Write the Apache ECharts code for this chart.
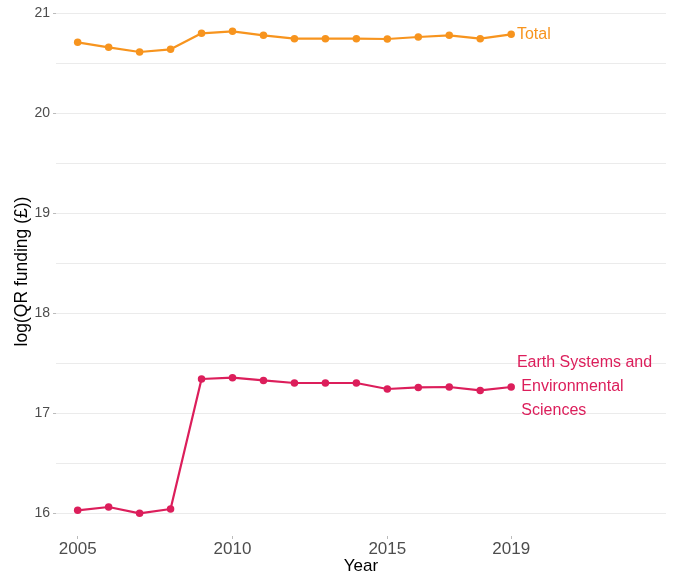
<!DOCTYPE html>
<html>
<head>
<meta charset="utf-8">
<script src="https://cdn.jsdelivr.net/npm/echarts@6/dist/echarts.min.js"></script>
<style>
  html, body { margin: 0; padding: 0; background: #ffffff; }
  #chart { width: 676px; height: 573px; }
</style>
</head>
<body>
<div id="chart"></div>
<script>
const years = [2005, 2006, 2007, 2008, 2009, 2010, 2011, 2012, 2013, 2014, 2015, 2016, 2017, 2018, 2019];
const totalValues = [20.707, 20.657, 20.61, 20.637, 20.797, 20.817, 20.777, 20.743, 20.743, 20.743, 20.74, 20.76, 20.777, 20.743, 20.787];
const earthValues = [16.027, 16.06, 15.997, 16.04, 17.34, 17.353, 17.326, 17.30, 17.30, 17.30, 17.24, 17.256, 17.26, 17.226, 17.26];
const xTickLabels = [2005, 2010, 2015, 2019];
const yTickLabels = [16, 17, 18, 19, 20, 21];
const yGridValues = [16, 16.5, 17, 17.5, 18, 18.5, 19, 19.5, 20, 20.5, 21];
const totalName = 'Total';
const earthName = 'Earth Systems and\n Environmental\n Sciences';

const ORANGE = '#F7941E';
const PINK = '#DC1E5B';
const FONT = 'Liberation Sans, Arial, sans-serif';

function makeData(vals, name, color) {
  return years.map((y, i) => {
    const item = { value: [y, vals[i]] };
    if (i === years.length - 1) {
      item.label = {
        show: true,
        formatter: name,
        position: 'right',
        distance: 2,
        color: color,
        fontSize: 16,
        fontFamily: FONT,
        lineHeight: 24,
        align: 'left',
        verticalAlign: 'middle'
      };
    }
    return item;
  });
}

const chart = echarts.init(document.getElementById('chart'), null, { renderer: 'canvas' });
chart.setOption({
  animation: false,
  backgroundColor: '#ffffff',
  grid: { left: 56, right: 10, top: 7, bottom: 37, containLabel: false, outerBoundsMode: 'none' },
  xAxis: {
    type: 'value',
    min: 2004.3,
    max: 2024,
    name: 'Year',
    nameLocation: 'middle',
    nameGap: 22,
    nameMoveOverlap: false,
    nameTextStyle: { color: '#000000', fontSize: 17, fontFamily: FONT, verticalAlign: 'top' },
    axisLine: { show: false },
    axisTick: { show: true, customValues: xTickLabels, length: 3, lineStyle: { color: '#bbbbbb', width: 1 } },
    axisLabel: { customValues: xTickLabels, color: '#4d4d4d', fontSize: 17, fontFamily: FONT, margin: 5, formatter: v => String(v) },
    splitLine: { show: false }
  },
  yAxis: {
    type: 'value',
    min: 15.77,
    max: 21.06,
    name: 'log(QR funding (£))',
    nameLocation: 'middle',
    nameGap: 25,
    nameMoveOverlap: false,
    nameRotate: 90,
    nameTextStyle: { color: '#000000', fontSize: 17.5, fontFamily: FONT },
    axisLine: { show: false },
    axisTick: { show: true, customValues: yTickLabels, length: 3, lineStyle: { color: '#bbbbbb', width: 1 } },
    axisLabel: { customValues: yTickLabels, color: '#4d4d4d', fontSize: 14, fontFamily: FONT, margin: 6, formatter: v => String(v) },
    splitLine: { show: false }
  },
  series: [
    {
      type: 'line',
      name: 'grid',
      data: [],
      silent: true,
      z: 0,
      markLine: {
        silent: true,
        z: 0,
        symbol: 'none',
        label: { show: false },
        lineStyle: { color: '#ebebeb', width: 1, type: 'solid' },
        data: yGridValues.map(v => ({ yAxis: v }))
      }
    },
    {
      type: 'line',
      name: totalName,
      data: makeData(totalValues, totalName, ORANGE),
      symbol: 'circle',
      symbolSize: 7.5,
      lineStyle: { color: ORANGE, width: 2.2 },
      itemStyle: { color: ORANGE },
      z: 3
    },
    {
      type: 'line',
      name: 'Earth',
      data: makeData(earthValues, earthName, PINK),
      symbol: 'circle',
      symbolSize: 7.5,
      lineStyle: { color: PINK, width: 2.2 },
      itemStyle: { color: PINK },
      z: 3
    }
  ]
});
</script>
</body>
</html>
